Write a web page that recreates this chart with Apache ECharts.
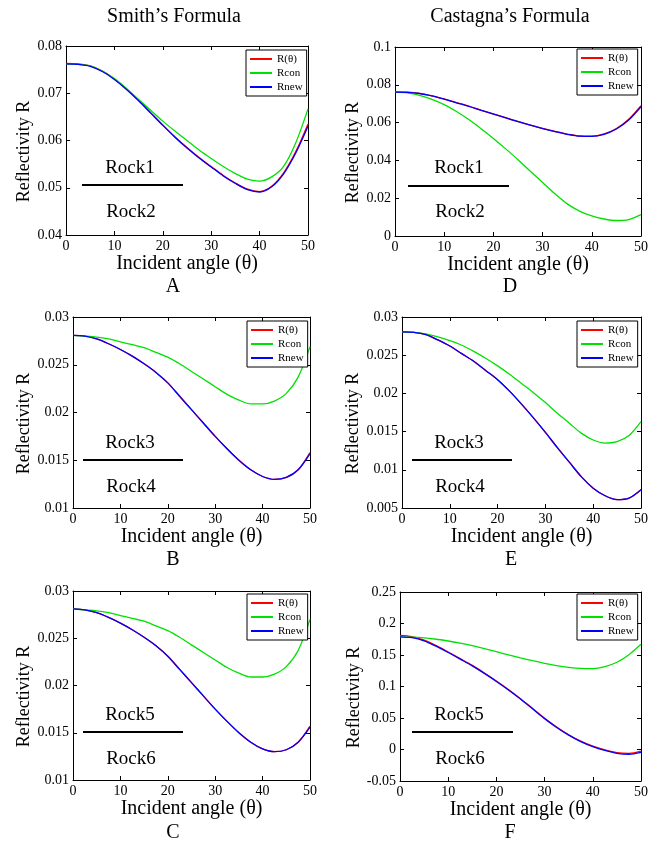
<!DOCTYPE html>
<html><head><meta charset="utf-8">
<script src="https://cdn.jsdelivr.net/npm/echarts@6/dist/echarts.min.js"></script>
<style>html,body{margin:0;padding:0;background:#fff}#c{width:657px;height:843px}</style>
</head><body><div id="c"></div>
<script>
// ---- data ----
const angles = [0, 2.5, 5, 7.5, 10, 12.5, 15, 17.5, 20, 22.5, 25, 27.5, 30, 32.5, 35, 37.5, 40, 42.5, 45, 47.5, 50];
const seriesNames = ['R(θ)', 'Rcon', 'Rnew'];
const columnTitles = ['Smith\u2019s Formula', 'Castagna\u2019s Formula'];
const panelLetters = ['A', 'B', 'C', 'D', 'E', 'F'];
const rockLabels = [['Rock1', 'Rock2'], ['Rock3', 'Rock4'], ['Rock5', 'Rock6']];

const A_Rtheta = [0.0763, 0.0762, 0.0758, 0.0747, 0.0730, 0.0709, 0.0685, 0.0659, 0.0633, 0.0608, 0.0585, 0.0564, 0.0545, 0.0526, 0.0510, 0.0497, 0.0492, 0.0503, 0.0532, 0.0577, 0.0635];
const A_Rcon   = [0.0762, 0.0761, 0.0758, 0.0747, 0.0731, 0.0710, 0.0687, 0.0664, 0.0641, 0.0620, 0.0600, 0.0580, 0.0562, 0.0545, 0.0530, 0.0518, 0.0514, 0.0523, 0.0546, 0.0596, 0.0667];
const A_Rnew   = [0.0762, 0.0761, 0.0757, 0.0746, 0.0729, 0.0708, 0.0684, 0.0658, 0.0632, 0.0607, 0.0584, 0.0563, 0.0544, 0.0525, 0.0509, 0.0496, 0.0491, 0.0502, 0.0530, 0.0574, 0.0630];

const B_Rtheta = [0.02807, 0.0280, 0.0277, 0.0272, 0.0266, 0.0259, 0.0251, 0.0242, 0.0231, 0.0217, 0.0203, 0.0189, 0.0175, 0.0162, 0.0150, 0.0140, 0.0133, 0.0130, 0.0132, 0.0140, 0.0158];
const B_Rcon   = [0.02807, 0.0280, 0.0279, 0.0277, 0.0274, 0.0271, 0.0268, 0.0263, 0.0258, 0.0251, 0.0243, 0.0235, 0.0227, 0.0219, 0.0213, 0.0209, 0.0209, 0.0212, 0.0220, 0.0237, 0.0269];
const B_Rnew   = [0.02807, 0.0280, 0.0277, 0.0272, 0.0266, 0.0259, 0.0251, 0.0242, 0.0231, 0.0217, 0.0203, 0.0189, 0.0175, 0.0162, 0.0150, 0.0140, 0.0133, 0.0130, 0.0132, 0.0140, 0.0157];

const C_Rtheta = [0.02810, 0.0280, 0.0277, 0.0272, 0.0266, 0.0259, 0.0251, 0.0242, 0.0231, 0.0217, 0.0203, 0.0189, 0.0175, 0.0162, 0.0150, 0.0140, 0.0133, 0.0130, 0.0132, 0.0140, 0.0157];
const C_Rcon   = [0.02810, 0.0280, 0.0279, 0.0277, 0.0274, 0.0271, 0.0268, 0.0263, 0.0258, 0.0251, 0.0243, 0.0235, 0.0227, 0.0219, 0.0213, 0.0209, 0.0209, 0.0212, 0.0220, 0.0237, 0.0270];
const C_Rnew   = [0.02810, 0.0280, 0.0277, 0.0272, 0.0266, 0.0259, 0.0251, 0.0242, 0.0231, 0.0217, 0.0203, 0.0189, 0.0175, 0.0162, 0.0150, 0.0140, 0.0133, 0.0130, 0.0132, 0.0140, 0.0156];

const D_Rtheta = [0.0762, 0.0761, 0.0755, 0.0742, 0.0725, 0.0706, 0.0687, 0.0666, 0.0646, 0.0626, 0.0606, 0.0587, 0.0569, 0.0553, 0.0539, 0.0529, 0.0528, 0.0540, 0.0569, 0.0618, 0.0690];
const D_Rcon   = [0.0761, 0.0757, 0.0744, 0.0723, 0.0695, 0.0659, 0.0616, 0.0568, 0.0516, 0.0461, 0.0404, 0.0343, 0.0283, 0.0223, 0.0170, 0.0132, 0.0106, 0.0090, 0.0082, 0.0087, 0.0113];
const D_Rnew   = [0.0761, 0.0760, 0.0754, 0.0741, 0.0724, 0.0705, 0.0686, 0.0665, 0.0645, 0.0625, 0.0605, 0.0586, 0.0568, 0.0552, 0.0538, 0.0528, 0.0527, 0.0538, 0.0566, 0.0614, 0.0684];

const E_Rtheta = [0.02806, 0.0280, 0.0277, 0.0270, 0.0262, 0.0252, 0.0242, 0.0230, 0.0218, 0.0203, 0.0186, 0.0168, 0.0149, 0.0129, 0.0110, 0.0091, 0.0076, 0.0066, 0.0061, 0.0063, 0.0074];
const E_Rcon   = [0.02806, 0.0280, 0.0278, 0.0274, 0.0269, 0.0263, 0.0255, 0.0246, 0.0236, 0.0225, 0.0213, 0.0201, 0.0188, 0.0174, 0.0161, 0.0148, 0.0139, 0.0135, 0.0137, 0.0145, 0.0163];
const E_Rnew   = [0.02806, 0.0280, 0.0277, 0.0270, 0.0262, 0.0252, 0.0242, 0.0230, 0.0218, 0.0203, 0.0186, 0.0168, 0.0149, 0.0129, 0.0110, 0.0091, 0.0076, 0.0066, 0.0061, 0.0063, 0.0074];

const F_Rtheta = [0.1810, 0.1790, 0.1735, 0.1648, 0.1547, 0.1442, 0.1335, 0.1215, 0.1087, 0.0952, 0.0807, 0.0652, 0.0497, 0.0357, 0.0235, 0.0133, 0.0053, -0.0005, -0.0048, -0.0060, -0.0025];
const F_Rcon   = [0.1789, 0.1784, 0.1772, 0.1750, 0.1722, 0.1687, 0.1647, 0.1601, 0.1552, 0.1503, 0.1455, 0.1410, 0.1368, 0.1332, 0.1305, 0.1288, 0.1285, 0.1315, 0.1385, 0.1505, 0.1669];
const F_Rnew   = [0.1789, 0.1775, 0.1725, 0.1640, 0.1540, 0.1435, 0.1328, 0.1208, 0.1080, 0.0945, 0.0800, 0.0645, 0.0490, 0.0350, 0.0228, 0.0125, 0.0045, -0.0015, -0.0060, -0.0075, -0.0045];

// ---- layout / style ----
const FONT = 'Liberation Serif';
const COLORS = ['#ff0000', '#00e000', '#0000ff'];

const panels = [
  {L: 0, grid: [66, 46, 242, 189], y: [0.04, 0.08, 0.01], d: [A_Rtheta, A_Rcon, A_Rnew], lg: [246, 50], rock: 0, line: [82, 183, 185], tY: 168, bY: 212, tx: 130, gap: 31, letter: [173, 287]},
  {L: 1, grid: [73, 317, 237, 191], y: [0.01, 0.03, 0.005], d: [B_Rtheta, B_Rcon, B_Rnew], lg: [247, 321], rock: 1, line: [83, 183, 460], tY: 443, bY: 487, tx: 130, gap: 37, letter: [173, 560]},
  {L: 2, grid: [73, 591, 237, 189], y: [0.01, 0.03, 0.005], d: [C_Rtheta, C_Rcon, C_Rnew], lg: [247, 594], rock: 2, line: [83, 183, 732], tY: 715, bY: 759, tx: 130, gap: 37, letter: [173, 833]},
  {L: 3, grid: [395, 47, 246, 189], y: [0, 0.1, 0.02], d: [D_Rtheta, D_Rcon, D_Rnew], lg: [577, 49], rock: 0, line: [408, 509, 186], tY: 168, bY: 212, tx: 459, gap: 31, letter: [510, 287]},
  {L: 4, grid: [402, 317, 239, 191], y: [0.005, 0.03, 0.005], d: [E_Rtheta, E_Rcon, E_Rnew], lg: [577, 321], rock: 1, line: [412, 512, 460], tY: 443, bY: 487, tx: 459, gap: 37, letter: [511, 560]},
  {L: 5, grid: [400, 592, 241, 189], y: [-0.05, 0.25, 0.05], d: [F_Rtheta, F_Rcon, F_Rnew], lg: [577, 594], rock: 2, line: [412, 513, 732], tY: 715, bY: 759, tx: 459, gap: 36, letter: [510, 833]}
];

const fmt = v => String(parseFloat(v.toFixed(4)));
const grid = [], xAxis = [], yAxis = [], series = [], legend = [], graphic = [];
const txt = (x, y, s, size) => ({type: 'text', x: x, y: y, z: 10,
  style: {text: s, fontFamily: FONT, fontSize: size, fill: '#000', align: 'center', verticalAlign: 'middle'}});

panels.forEach((p, i) => {
  grid.push({left: p.grid[0], top: p.grid[1], width: p.grid[2], height: p.grid[3], containLabel: false});
  const axLine = {show: true, onZero: false, lineStyle: {color: '#000', width: 1}};
  const tick = {show: true, inside: true, length: 4, lineStyle: {color: '#000'}};
  const xi = xAxis.length, yi = yAxis.length;
  xAxis.push({type: 'value', gridIndex: i, min: 0, max: 50, interval: 10, position: 'bottom',
    axisLine: axLine, axisTick: tick, splitLine: {show: false},
    axisLabel: {color: '#000', fontFamily: FONT, fontSize: 14, margin: 4},
    name: 'Incident angle (θ)', nameLocation: 'middle', nameGap: 19,
    nameTextStyle: {color: '#000', fontFamily: FONT, fontSize: 20}});
  xAxis.push({type: 'value', gridIndex: i, min: 0, max: 50, interval: 10, position: 'top',
    axisLine: axLine, axisTick: tick, splitLine: {show: false}, axisLabel: {show: false}});
  yAxis.push({type: 'value', gridIndex: i, min: p.y[0], max: p.y[1], interval: p.y[2], position: 'left',
    axisLine: axLine, axisTick: tick, splitLine: {show: false},
    axisLabel: {color: '#000', fontFamily: FONT, fontSize: 14, margin: 4, formatter: fmt},
    name: 'Reflectivity R', nameLocation: 'middle', nameGap: p.gap,
    nameTextStyle: {color: '#000', fontFamily: FONT, fontSize: 18, padding: [0, 22, 0, 0]}});
  yAxis.push({type: 'value', gridIndex: i, min: p.y[0], max: p.y[1], interval: p.y[2], position: 'right',
    axisLine: axLine, axisTick: tick, splitLine: {show: false}, axisLabel: {show: false}});
  p.d.forEach((vals, k) => {
    series.push({type: 'line', name: seriesNames[k], xAxisIndex: xi, yAxisIndex: yi,
      data: angles.map((a, j) => [a, vals[j]]), symbol: 'none', showSymbol: false, smooth: 0.3,
      lineStyle: {color: COLORS[k], width: 1.3}, itemStyle: {color: COLORS[k]},
      silent: true, z: 2 + k});
  });
  legend.push({left: p.lg[0], top: p.lg[1], orient: 'vertical', data: seriesNames, icon: 'rect',
    itemWidth: 22, itemHeight: 2, itemGap: 2, padding: [3, 4, 3, 4],
    borderColor: '#000', borderWidth: 1, backgroundColor: '#fff', selectedMode: false,
    textStyle: {fontFamily: FONT, fontSize: 11, color: '#000', lineHeight: 12}});
  graphic.push({type: 'line', shape: {x1: p.line[0], y1: p.line[2], x2: p.line[1], y2: p.line[2]},
    style: {stroke: '#000', lineWidth: 2}, z: 10});
  graphic.push(txt(p.tx, p.tY, rockLabels[p.rock][0], 19));
  graphic.push(txt(p.tx + 1, p.bY, rockLabels[p.rock][1], 19));
  graphic.push(txt(p.letter[0], p.letter[1], panelLetters[p.L], 20));
});
graphic.push(txt(174, 17, columnTitles[0], 20));
graphic.push(txt(510, 17, columnTitles[1], 20));

const chart = echarts.init(document.getElementById('c'), null, {renderer: 'canvas'});
chart.setOption({animation: false, backgroundColor: '#fff', grid, xAxis, yAxis, series, legend, graphic});
</script></body></html>
